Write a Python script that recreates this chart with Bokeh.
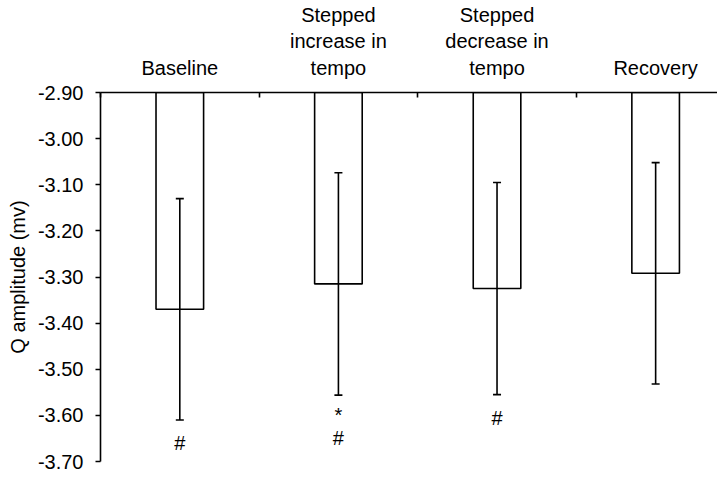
from bokeh.plotting import figure
from bokeh.models import Range1d, FixedTicker, NumeralTickFormatter, LinearAxis, ColumnDataSource, Whisker, TeeHead
from bokeh.core.properties import value
from bokeh.embed import file_html
from bokeh.resources import INLINE

# data
categories = ["Baseline", "Stepped\nincrease in\ntempo", "Stepped\ndecrease in\ntempo", "Recovery"]
means = [-3.370, -3.315, -3.325, -3.292]
errors = [0.240, 0.241, 0.230, 0.240]
mark_x = [0, 1, 1, 2]
mark_y = [-3.66, -3.60, -3.65, -3.605]
mark_text = ["#", "*", "#", "#"]
y_ticks = [-2.90, -3.00, -3.10, -3.20, -3.30, -3.40, -3.50, -3.60, -3.70]

FONT = "Liberation Sans"
FS = "20px"

xs = [i + 0.5 for i in range(len(categories))]
src = ColumnDataSource(dict(
    x=xs, top=[-2.90] * len(means), bottom=means,
    upper=[m + e for m, e in zip(means, errors)],
    lower=[m - e for m, e in zip(means, errors)],
))

p = figure(width=717, height=472, output_backend="svg", toolbar_location=None,
           x_range=Range1d(0, 3.89), y_range=Range1d(-3.70, -2.90),
           x_axis_location=None, y_axis_location=None,
           min_border_left=100, min_border_top=88, min_border_bottom=11, min_border_right=0)
p.outline_line_color = None
p.xgrid.visible = False
p.ygrid.visible = False

p.vbar(x="x", width=0.30, top="top", bottom="bottom", source=src,
       fill_color="white", line_color="black", line_width=1.6)

w = Whisker(base="x", upper="upper", lower="lower", source=src, level="overlay",
            line_color="black", line_width=1.6,
            upper_head=TeeHead(size=8, line_color="black", line_width=1.6),
            lower_head=TeeHead(size=8, line_color="black", line_width=1.6))
p.add_layout(w)

p.text(x=[xs[i] for i in mark_x], y=mark_y, text=mark_text,
       text_font=value(FONT), text_font_size=FS, text_color="black",
       text_align="center", text_baseline="middle")

# y axis
yax = LinearAxis(ticker=FixedTicker(ticks=y_ticks),
                 formatter=NumeralTickFormatter(format="0.00"),
                 axis_label="Q amplitude (mv)")
yax.axis_line_color = "black"
yax.axis_line_width = 1.6
yax.major_tick_line_color = "black"
yax.major_tick_line_width = 1.6
yax.major_tick_in = 0
yax.major_tick_out = 5
yax.minor_tick_line_color = None
yax.major_label_standoff = 12
yax.major_label_text_font = FONT
yax.major_label_text_font_size = FS
yax.major_label_text_color = "black"
yax.axis_label_text_font = FONT
yax.axis_label_text_font_size = FS
yax.axis_label_text_font_style = "normal"
yax.axis_label_text_color = "black"
yax.axis_label_standoff = 6
p.add_layout(yax, "left")

# top category axis
xax = LinearAxis(ticker=FixedTicker(ticks=xs, minor_ticks=[0, 1, 2, 3, 4]),
                 major_label_overrides={x: c for x, c in zip(xs, categories)})
xax.axis_line_color = "black"
xax.axis_line_width = 1.6
xax.major_tick_line_color = None
xax.major_tick_in = 0
xax.major_tick_out = 0
xax.minor_tick_line_color = "black"
xax.minor_tick_line_width = 1.6
xax.minor_tick_in = 5
xax.minor_tick_out = 0
xax.major_label_standoff = 14
xax.major_label_text_font = FONT
xax.major_label_text_font_size = FS
xax.major_label_text_color = "black"
xax.major_label_orientation = "horizontal"
p.add_layout(xax, "above")

open("out.html", "w").write(file_html(p, INLINE))
